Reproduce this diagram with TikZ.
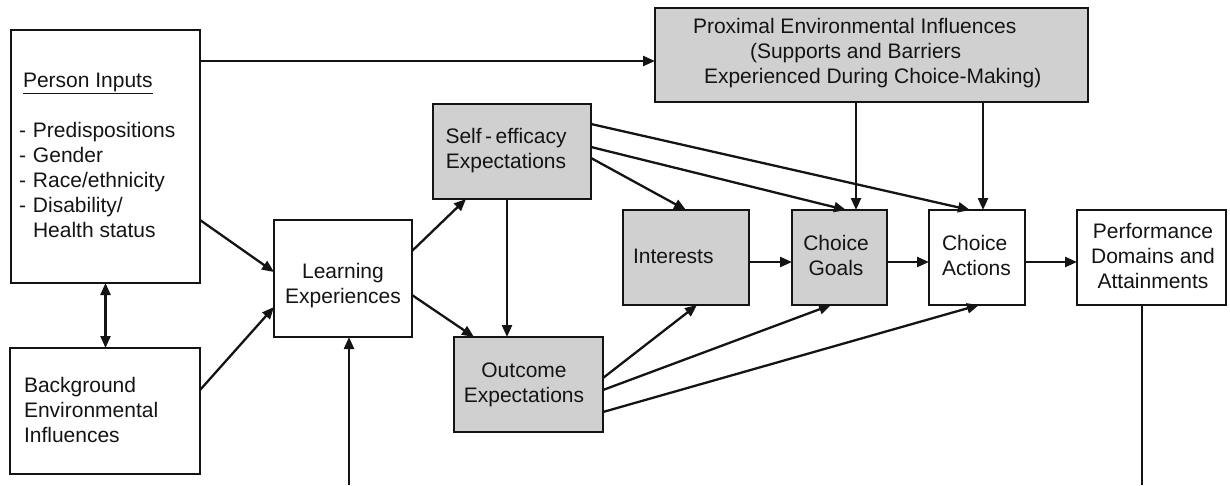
\documentclass[tikz,border=0pt]{standalone}
\usepackage{fontspec}
\setmainfont{Liberation Sans}
\usetikzlibrary{arrows.meta,calc}
\definecolor{boxgray}{RGB}{208,208,208}
\definecolor{ink}{RGB}{20,20,20}
\begin{document}
\begin{tikzpicture}[x=1pt,y=-1pt,
  box/.style={draw=ink,line width=2.3pt,inner sep=0pt,outer sep=0pt,rectangle},
  shaded/.style={box,fill=boxgray},
  lbl/.style={inner sep=0pt,outer sep=0pt,text=ink,font=\fontsize{21}{25.2}\selectfont},
  tip/.tip={Triangle[length=12pt,width=10pt]},
  arr/.style={draw=ink,line width=2.3pt,-tip},
  dblarr/.style={draw=ink,line width=2.3pt,tip-tip},
  plain/.style={draw=ink,line width=2.3pt}]
\useasboundingbox (0,0) rectangle (1230,485);

% boxes
\node[box,minimum width=189pt,minimum height=253pt] (pi) at (105.5,156.5) {};
\node[box,minimum width=190pt,minimum height=126pt] (bg) at (105,411) {};
\node[box,minimum width=138pt,minimum height=117pt] (le) at (343,278.5) {};
\node[shaded,minimum width=158pt,minimum height=95pt] (se) at (512,151.5) {};
\node[shaded,minimum width=149pt,minimum height=95pt] (oe) at (528.5,384.5) {};
\node[shaded,minimum width=126pt,minimum height=95pt] (in) at (686,257.5) {};
\node[shaded,minimum width=95pt,minimum height=95pt] (cg) at (839.5,257.5) {};
\node[box,minimum width=96pt,minimum height=95pt] (ca) at (977,257.5) {};
\node[box,minimum width=149pt,minimum height=95pt] (pd) at (1151.5,257.5) {};
\node[shaded,minimum width=433pt,minimum height=94pt] (px) at (871.5,55) {};

% labels
\node[lbl,anchor=base west] (tpi) at (23,87) {\underline{Person Inputs}};
\node[lbl,anchor=north west,align=left] (tpil) at (19,121.8)
  {\makebox[14pt][l]{-}Predispositions\\
   \makebox[14pt][l]{-}Gender\\
   \makebox[14pt][l]{-}Race/ethnicity\\
   \makebox[14pt][l]{-}Disability/\\
   \makebox[14pt][l]{}Health status};
\node[lbl,anchor=north west,align=left] (tbg) at (24,376.8)
  {Background\\Environmental\\Influences};
\node[lbl,anchor=north,align=center] (tle) at (343,262.8) {Learning\\Experiences};
\node[lbl,anchor=north,align=center] (tse) at (506,127.8) {Self\,-\,efficacy\\Expectations};
\node[lbl,anchor=north,align=center] (toe) at (524,362.8) {Outcome\\Expectations};
\node[lbl,anchor=base west] (tin) at (633,263) {Interests};
\node[lbl,anchor=north,align=center] (tcg) at (836,234.8) {Choice\\Goals};
\node[lbl,anchor=north west,align=left] (tca) at (942,234.8) {Choice\\Actions};
\node[lbl,anchor=north,align=center] (tpd) at (1153,222.8) {Performance\\Domains and\\Attainments};
\node[lbl,anchor=north west,align=left] (tpx) at (693,17.8)
  {Proximal Environmental Influences\\
   \hspace*{57pt}(Supports and Barriers\\
   \hspace*{11pt}Experienced During Choice-Making)};

% free ends at the lower edge
\coordinate (lein) at (349,485);
\coordinate (pdout) at (1142,485);

% connectors
\draw[arr] ($(pi.north east)+(0,31)$) -- ($(px.north west)+(0,53)$);
\draw[arr] ($(pi.north east)+(0,190)$) -- ($(le.north west)+(0,52)$);
\draw[arr] ($(bg.north east)+(0,42)$) -- ($(le.north west)+(0,87)$);
\draw[dblarr] (pi.south) -- (pi.south |- bg.north);
\draw[arr] (lein) -- (lein |- le.south);
\draw[arr] ($(le.north east)+(0,31)$) -- ($(se.south west)+(33,0)$);
\draw[arr] ($(le.north east)+(0,75)$) -- ($(oe.north west)+(20,0)$);
\draw[arr] ($(se.south west)+(74,0)$) -- ($(oe.north west)+(53,0)$);
\draw[arr] ($(se.north east)+(0,54)$) -- (in.north);
\draw[arr] ($(se.north east)+(0,43)$) -- ($(cg.north west)+(54,0)$);
\draw[arr] ($(se.north east)+(0,20)$) -- ($(ca.north west)+(41,0)$);
\draw[arr] ($(px.south west)+(201,0)$) -- ($(cg.north west)+(64,0)$);
\draw[arr] ($(px.south west)+(328,0)$) -- ($(ca.north west)+(54,0)$);
\draw[arr] ($(oe.north east)+(0,41)$) -- ($(in.south west)+(74,0)$);
\draw[arr] ($(oe.north east)+(0,53)$) -- ($(cg.south west)+(39,0)$);
\draw[arr] ($(oe.north east)+(0,75)$) -- ($(ca.south west)+(50,0)$);
\draw[arr] ($(in.north east)+(0,52)$) -- ($(cg.north west)+(0,52)$);
\draw[arr] ($(cg.north east)+(0,52)$) -- ($(ca.north west)+(0,52)$);
\draw[arr] ($(ca.north east)+(0,52)$) -- ($(pd.north west)+(0,52)$);
\draw[plain] ($(pd.south west)+(65,0)$) -- (pdout);
\end{tikzpicture}
\end{document}
